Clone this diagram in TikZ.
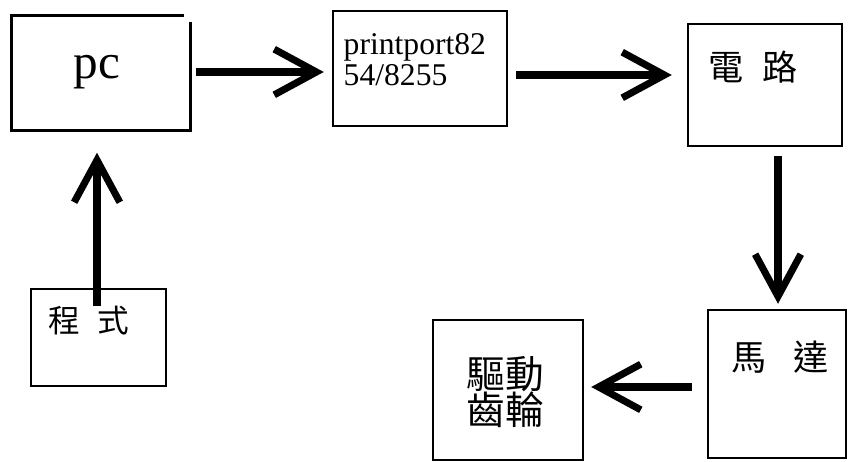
\documentclass[tikz,border=0pt]{standalone}
\usepackage{fontspec}
\setmainfont{Liberation Serif}
\newfontfamily\cjk{Noto Sans CJK TC}
\usetikzlibrary{arrows.meta, positioning}

\tikzset{
  blockbox/.style={draw, line width=0.7pt, inner sep=0pt},
  flow/.style={line width=2pt, -{Straight Barb[length=12pt,width=13pt]}},
  lbl/.style={inner sep=0pt, font=\cjk\fontsize{10}{12}\selectfont}
}

\begin{document}
\begin{tikzpicture}
    \useasboundingbox (0,0) rectangle (8.57,4.62);

    % Blocks
    \node[inner sep=0pt, minimum width=1.78cm, minimum height=1.14cm] (pc) at (1.01,3.89) {};
    \draw[line width=0.7pt] ([xshift=-0.07cm]pc.north east) -- (pc.north west)
      -- (pc.south west) -- (pc.south east) -- ([yshift=-0.07cm]pc.north east);
    \node[blockbox, minimum width=1.74cm, minimum height=1.15cm] (port) at (4.20,3.935) {};
    \node[blockbox, minimum width=1.54cm, minimum height=1.22cm] (circ) at (7.65,3.77) {};
    \node[blockbox, minimum width=1.38cm, minimum height=1.48cm] (motor) at (7.77,0.78) {};
    \node[blockbox, minimum width=1.50cm, minimum height=1.40cm] (gear) at (5.08,0.72) {};
    \node[blockbox, minimum width=1.35cm, minimum height=0.97cm] (prog) at (0.985,1.245) {};

    % Texts
    \node[inner sep=0pt, font=\fontsize{14}{16}\selectfont] (pctext) at (0.97,3.90) {pc};
    \node[inner sep=0pt, anchor=north west, align=left, font=\fontsize{9}{8.8}\selectfont]
      (porttext) at (3.43,4.29) {printport82\\54/8255};
    \node[lbl] (circtext) at (7.53,3.95) {電\hspace{0.55em}路};
    \node[lbl] (motortext) at (7.80,1.05) {馬\hspace{0.75em}達};
    \node[lbl, font=\cjk\fontsize{11}{10.4}\selectfont, align=center] (geartext) at (5.05,0.70) {驅動\\齒輪};
    \node[lbl, font=\cjk\fontsize{9}{11}\selectfont] (progtext) at (0.89,1.41) {程\hspace{0.55em}式};

    % Arrows
    \draw[flow, shorten <=0.05cm, shorten >=0.08cm]
      ([yshift=0.01cm]pc.east) -- ([yshift=0.01cm]pc.east -| port.west);
    \draw[flow, shorten <=0.08cm, shorten >=0.15cm]
      ([yshift=-0.065cm]port.east) -- ([yshift=-0.065cm]port.east -| circ.west);
    \draw[flow, shorten <=0.09cm, shorten >=0.05cm]
      ([xshift=0.13cm]circ.south) -- ([xshift=0.13cm]circ.south |- motor.north);
    \draw[flow, shorten <=0.15cm, shorten >=0.07cm]
      ([yshift=-0.03cm]motor.west) -- ([yshift=-0.03cm]motor.west -| gear.east);
    \draw[flow, shorten >=0.22cm]
      ([xshift=-0.015cm, yshift=-0.18cm]prog.north) -- ([xshift=-0.015cm]prog.north |- pc.south);
\end{tikzpicture}
\end{document}
